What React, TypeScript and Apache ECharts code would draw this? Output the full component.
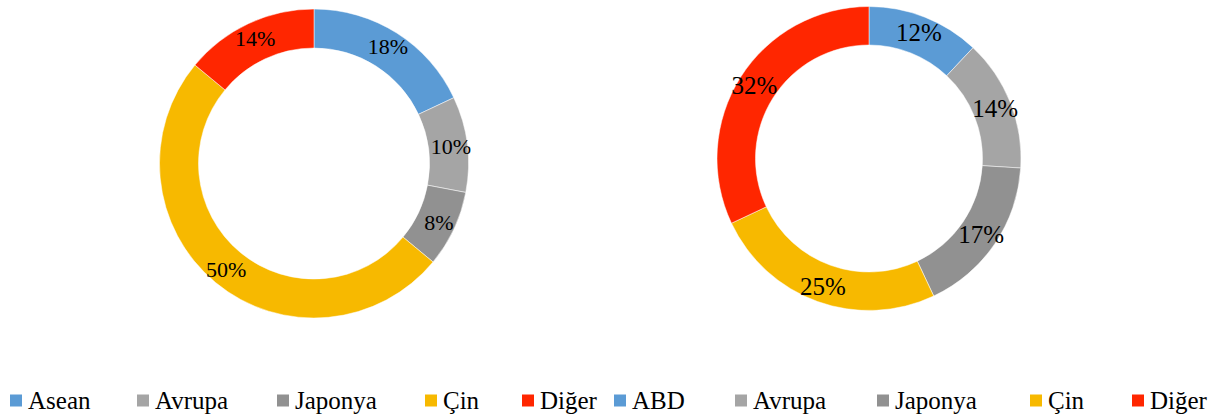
import React, { useEffect, useRef } from "react";
import * as echarts from "echarts";

const leftCategories = ["Asean", "Avrupa", "Japonya", "Çin", "Diğer"];
const leftValues = [18, 10, 8, 50, 14];
const rightCategories = ["ABD", "Avrupa", "Japonya", "Çin", "Diğer"];
const rightValues = [12, 14, 17, 25, 32];
const colors = ["#5B9BD5", "#A5A5A5", "#919191", "#F7B900", "#FF2600"];

const legendLeftPositions = [8, 135, 275, 423, 520];
const legendRightPositions = [612, 733, 875, 1028, 1130];

const FONT = "Times New Roman, Liberation Serif, DejaVu Serif, serif";

export default function App() {
  const ref = useRef<HTMLDivElement>(null);
  useEffect(() => {
    document.body.style.margin = "0";
    if (!ref.current) return;
    const chart = echarts.init(ref.current, undefined, { renderer: "svg" });
    const mkData = (cats: string[], vals: number[]) =>
      cats.map((c, i) => ({ name: c, value: vals[i], itemStyle: { color: colors[i] } }));
    const legends: any[] = [];
    const addLegend = (c: string, i: number, left: number) => {
      legends.push({
        data: [{ name: c, itemStyle: { color: colors[i] } }],
        left,
        top: 388,
        padding: 0,
        icon: "rect",
        itemWidth: 14,
        itemHeight: 14,
        itemGap: 6,
        selectedMode: false,
        textStyle: { fontSize: 25, fontFamily: FONT, color: "#000" },
      });
    };
    leftCategories.forEach((c, i) => addLegend(c, i, legendLeftPositions[i]));
    rightCategories.forEach((c, i) => addLegend(c, i, legendRightPositions[i]));
    chart.setOption({
      animation: false,
      backgroundColor: "#fff",
      textStyle: { fontFamily: FONT },
      legend: legends,
      series: [
        {
          type: "pie",
          center: [314, 163.5],
          radius: [115.5, 154.5],
          startAngle: 90,
          clockwise: true,
          data: mkData(leftCategories, leftValues),
          itemStyle: { borderColor: "#fff", borderWidth: 0.5 },
          label: {
            show: true,
            position: "inside",
            formatter: "{c}%",
            fontSize: 22,
            fontFamily: FONT,
            color: "#000",
          },
          labelLine: { show: false },
          emphasis: { disabled: true },
        },
        {
          type: "pie",
          center: [869, 158.5],
          radius: [113.5, 152],
          startAngle: 90,
          clockwise: true,
          data: mkData(rightCategories, rightValues),
          itemStyle: { borderColor: "#fff", borderWidth: 0.5 },
          label: {
            show: true,
            position: "inside",
            formatter: "{c}%",
            fontSize: 25,
            fontFamily: FONT,
            color: "#000",
          },
          labelLine: { show: false },
          emphasis: { disabled: true },
        },
      ],
    });
    return () => chart.dispose();
  }, []);
  return <div ref={ref} style={{ width: 1222, height: 417 }} />;
}
